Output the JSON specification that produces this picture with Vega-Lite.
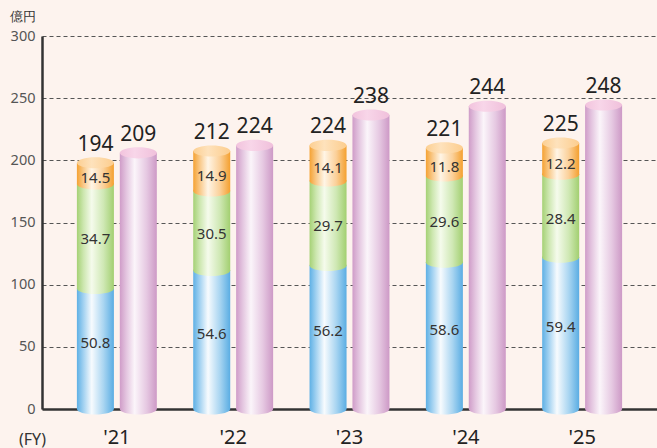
{
  "$schema": "https://vega.github.io/schema/vega-lite/v6.json",
  "width": 615,
  "height": 373,
  "autosize": {"type": "none"},
  "padding": {"left": 42, "top": 36, "right": 0, "bottom": 39},
  "background": "#fdf3ee",
  "config": {
    "view": {"stroke": null},
    "font": "Noto Sans",
    "axisY": {
      "domainColor": "#333333", "domainWidth": 2.5, "ticks": false,
      "labelPadding": 7, "labelFontSize": 14.5, "labelColor": "#555555",
      "grid": true, "gridDash": [4, 3], "gridColor": "#555555", "gridWidth": 1,
      "titleAngle": 0, "titleX": -20, "titleY": -20, "titleAlign": "center", "titleBaseline": "middle",
      "titleFontSize": 13, "titleFontWeight": "normal", "titleColor": "#333333"
    },
    "axisX": {
      "domainColor": "#333333", "domainWidth": 2.5, "ticks": false, "grid": false,
      "labelFontSize": 20, "labelColor": "#222222", "labelBaseline": "bottom", "labelPadding": 38, "labelAngle": 0,
      "titleX": -10, "titleY": 38, "titleAlign": "center", "titleBaseline": "bottom",
      "titleFontSize": 16, "titleFontWeight": "normal", "titleColor": "#333333"
    }
  },
  "data": {
    "values": [
      {"year": "'21", "series": "breakdown", "seg": "blue", "lo": 0, "hi": 97, "pct": "50.8"},
      {"year": "'21", "series": "breakdown", "seg": "green", "lo": 97, "hi": 181, "pct": "34.7"},
      {"year": "'21", "series": "breakdown", "seg": "orange", "lo": 181, "hi": 198, "pct": "14.5", "total": 194},
      {"year": "'21", "series": "total", "seg": "pink", "lo": 0, "hi": 206, "total": 209},
      {"year": "'22", "series": "breakdown", "seg": "blue", "lo": 0, "hi": 111.4, "pct": "54.6"},
      {"year": "'22", "series": "breakdown", "seg": "green", "lo": 111.4, "hi": 175.4, "pct": "30.5"},
      {"year": "'22", "series": "breakdown", "seg": "orange", "lo": 175.4, "hi": 207.5, "pct": "14.9", "total": 212},
      {"year": "'22", "series": "total", "seg": "pink", "lo": 0, "hi": 212, "total": 224},
      {"year": "'23", "series": "breakdown", "seg": "blue", "lo": 0, "hi": 115.4, "pct": "56.2"},
      {"year": "'23", "series": "breakdown", "seg": "green", "lo": 115.4, "hi": 183.4, "pct": "29.7"},
      {"year": "'23", "series": "breakdown", "seg": "orange", "lo": 183.4, "hi": 212, "pct": "14.1", "total": 224},
      {"year": "'23", "series": "total", "seg": "pink", "lo": 0, "hi": 236.5, "total": 238},
      {"year": "'24", "series": "breakdown", "seg": "blue", "lo": 0, "hi": 118, "pct": "58.6"},
      {"year": "'24", "series": "breakdown", "seg": "green", "lo": 118, "hi": 187.4, "pct": "29.6"},
      {"year": "'24", "series": "breakdown", "seg": "orange", "lo": 187.4, "hi": 210, "pct": "11.8", "total": 221},
      {"year": "'24", "series": "total", "seg": "pink", "lo": 0, "hi": 243.5, "total": 244},
      {"year": "'25", "series": "breakdown", "seg": "blue", "lo": 0, "hi": 122, "pct": "59.4"},
      {"year": "'25", "series": "breakdown", "seg": "green", "lo": 122, "hi": 188.8, "pct": "28.4"},
      {"year": "'25", "series": "breakdown", "seg": "orange", "lo": 188.8, "hi": 214, "pct": "12.2", "total": 225},
      {"year": "'25", "series": "total", "seg": "pink", "lo": 0, "hi": 244.5, "total": 248}
    ]
  },
  "encoding": {
    "x": {"field": "year", "type": "nominal", "sort": null, "title": "(FY)",
          "scale": {"paddingInner": 0.313, "paddingOuter": 0.3}},
    "xOffset": {"field": "series", "type": "nominal",
                "scale": {"domain": ["breakdown", "total"], "paddingInner": 0.1375, "paddingOuter": 0}},
    "y": {"field": "lo", "type": "quantitative", "title": "億円",
          "scale": {"domain": [0, 300], "nice": false},
          "axis": {"values": [0, 50, 100, 150, 200, 250, 300]}}
  },
  "layer": [
    {"transform": [{"filter": {"field": "seg", "equal": "blue"}}],
     "mark": {"type": "point", "shape": "M-1,0A1,0.3,0,1,0,1,0A1,0.3,0,1,0,-1,0Z", "size": 1369, "filled": true, "opacity": 1, "strokeWidth": 0,
              "fill": {"gradient": "linear", "x1": 0, "y1": 0, "x2": 1, "y2": 0, "stops": [{"offset": 0, "color": "#5eb0e5"}, {"offset": 0.18, "color": "#a3d2f1"}, {"offset": 0.4, "color": "#f7fbfe"}, {"offset": 0.72, "color": "#a9d5f1"}, {"offset": 1, "color": "#5aade3"}]}}},
    {"transform": [{"filter": {"field": "seg", "equal": "blue"}}],
     "mark": {"type": "bar", "strokeWidth": 0,
              "fill": {"gradient": "linear", "x1": 0, "y1": 0, "x2": 1, "y2": 0, "stops": [{"offset": 0, "color": "#5eb0e5"}, {"offset": 0.18, "color": "#a3d2f1"}, {"offset": 0.4, "color": "#f7fbfe"}, {"offset": 0.72, "color": "#a9d5f1"}, {"offset": 1, "color": "#5aade3"}]}},
     "encoding": {"y2": {"field": "hi"}}},
    {"transform": [{"filter": {"field": "seg", "equal": "green"}}],
     "mark": {"type": "point", "shape": "M-1,0A1,0.3,0,1,0,1,0A1,0.3,0,1,0,-1,0Z", "size": 1369, "filled": true, "opacity": 1, "strokeWidth": 0,
              "fill": {"gradient": "linear", "x1": 0, "y1": 0, "x2": 1, "y2": 0, "stops": [{"offset": 0, "color": "#a5d175"}, {"offset": 0.18, "color": "#cde7b0"}, {"offset": 0.4, "color": "#f5fbec"}, {"offset": 0.72, "color": "#cfe8b4"}, {"offset": 1, "color": "#a2cf70"}]}}},
    {"transform": [{"filter": {"field": "seg", "equal": "green"}}],
     "mark": {"type": "bar", "strokeWidth": 0,
              "fill": {"gradient": "linear", "x1": 0, "y1": 0, "x2": 1, "y2": 0, "stops": [{"offset": 0, "color": "#a5d175"}, {"offset": 0.18, "color": "#cde7b0"}, {"offset": 0.4, "color": "#f5fbec"}, {"offset": 0.72, "color": "#cfe8b4"}, {"offset": 1, "color": "#a2cf70"}]}},
     "encoding": {"y2": {"field": "hi"}}},
    {"transform": [{"filter": {"field": "seg", "equal": "orange"}}],
     "mark": {"type": "point", "shape": "M-1,0A1,0.3,0,1,0,1,0A1,0.3,0,1,0,-1,0Z", "size": 1369, "filled": true, "opacity": 1, "strokeWidth": 0,
              "fill": {"gradient": "linear", "x1": 0, "y1": 0, "x2": 1, "y2": 0, "stops": [{"offset": 0, "color": "#f5a233"}, {"offset": 0.18, "color": "#f9c989"}, {"offset": 0.4, "color": "#fff5e6"}, {"offset": 0.72, "color": "#fbd099"}, {"offset": 1, "color": "#f4a02f"}]}}},
    {"transform": [{"filter": {"field": "seg", "equal": "orange"}}],
     "mark": {"type": "bar", "strokeWidth": 0,
              "fill": {"gradient": "linear", "x1": 0, "y1": 0, "x2": 1, "y2": 0, "stops": [{"offset": 0, "color": "#f5a233"}, {"offset": 0.18, "color": "#f9c989"}, {"offset": 0.4, "color": "#fff5e6"}, {"offset": 0.72, "color": "#fbd099"}, {"offset": 1, "color": "#f4a02f"}]}},
     "encoding": {"y2": {"field": "hi"}}},
    {"transform": [{"filter": {"field": "seg", "equal": "orange"}}],
     "mark": {"type": "point", "shape": "M-1,0A1,0.3,0,1,0,1,0A1,0.3,0,1,0,-1,0Z", "size": 1369, "filled": true, "opacity": 1, "strokeWidth": 0,
              "fill": {"gradient": "linear", "x1": 0, "y1": 0, "x2": 1, "y2": 0, "stops": [{"offset": 0, "color": "#fccf92"}, {"offset": 0.4, "color": "#fee2bc"}, {"offset": 1, "color": "#fccd8e"}]}},
     "encoding": {"y": {"field": "hi", "type": "quantitative", "title": "億円"}}},
    {"transform": [{"filter": {"field": "seg", "equal": "pink"}}],
     "mark": {"type": "point", "shape": "M-1,0A1,0.3,0,1,0,1,0A1,0.3,0,1,0,-1,0Z", "size": 1369, "filled": true, "opacity": 1, "strokeWidth": 0,
              "fill": {"gradient": "linear", "x1": 0, "y1": 0, "x2": 1, "y2": 0, "stops": [{"offset": 0, "color": "#cf9cc8"}, {"offset": 0.18, "color": "#e4c6e0"}, {"offset": 0.4, "color": "#fbf5fa"}, {"offset": 0.72, "color": "#e6c9e2"}, {"offset": 1, "color": "#cd99c6"}]}}},
    {"transform": [{"filter": {"field": "seg", "equal": "pink"}}],
     "mark": {"type": "bar", "strokeWidth": 0,
              "fill": {"gradient": "linear", "x1": 0, "y1": 0, "x2": 1, "y2": 0, "stops": [{"offset": 0, "color": "#cf9cc8"}, {"offset": 0.18, "color": "#e4c6e0"}, {"offset": 0.4, "color": "#fbf5fa"}, {"offset": 0.72, "color": "#e6c9e2"}, {"offset": 1, "color": "#cd99c6"}]}},
     "encoding": {"y2": {"field": "hi"}}},
    {"transform": [{"filter": {"field": "seg", "equal": "pink"}}],
     "mark": {"type": "point", "shape": "M-1,0A1,0.3,0,1,0,1,0A1,0.3,0,1,0,-1,0Z", "size": 1369, "filled": true, "opacity": 1, "strokeWidth": 0,
              "fill": {"gradient": "linear", "x1": 0, "y1": 0, "x2": 1, "y2": 0, "stops": [{"offset": 0, "color": "#f2c3dd"}, {"offset": 0.4, "color": "#f8d6e9"}, {"offset": 1, "color": "#f0c0db"}]}},
     "encoding": {"y": {"field": "hi", "type": "quantitative", "title": "億円"}}},
    {"transform": [{"filter": {"field": "seg", "equal": "blue"}},
                   {"fold": ["lo", "hi"], "as": ["edge", "v"]},
                   {"aggregate": [{"op": "mean", "field": "v", "as": "mid"}], "groupby": ["year", "series", "pct"]}],
     "mark": {"type": "text", "fontSize": 15, "color": "#333333", "dy": -6, "baseline": "middle"},
     "encoding": {"y": {"field": "mid", "type": "quantitative", "title": "億円"}, "text": {"field": "pct"}}},
    {"transform": [{"filter": {"field": "seg", "equal": "green"}},
                   {"fold": ["lo", "hi"], "as": ["edge", "v"]},
                   {"aggregate": [{"op": "mean", "field": "v", "as": "mid"}], "groupby": ["year", "series", "pct"]}],
     "mark": {"type": "text", "fontSize": 15, "color": "#333333", "dy": 3, "baseline": "middle"},
     "encoding": {"y": {"field": "mid", "type": "quantitative", "title": "億円"}, "text": {"field": "pct"}}},
    {"transform": [{"filter": {"field": "seg", "equal": "orange"}},
                   {"fold": ["lo", "hi"], "as": ["edge", "v"]},
                   {"aggregate": [{"op": "mean", "field": "v", "as": "mid"}], "groupby": ["year", "series", "pct"]}],
     "mark": {"type": "text", "fontSize": 15, "color": "#333333", "dy": 5, "baseline": "middle"},
     "encoding": {"y": {"field": "mid", "type": "quantitative", "title": "億円"}, "text": {"field": "pct"}}},
    {"transform": [{"filter": "isValid(datum.total)"}],
     "mark": {"type": "text", "fontSize": 21, "color": "#222222", "dy": -12, "baseline": "alphabetic"},
     "encoding": {"y": {"field": "hi", "type": "quantitative", "title": "億円"}, "text": {"field": "total"}}}
  ]
}
